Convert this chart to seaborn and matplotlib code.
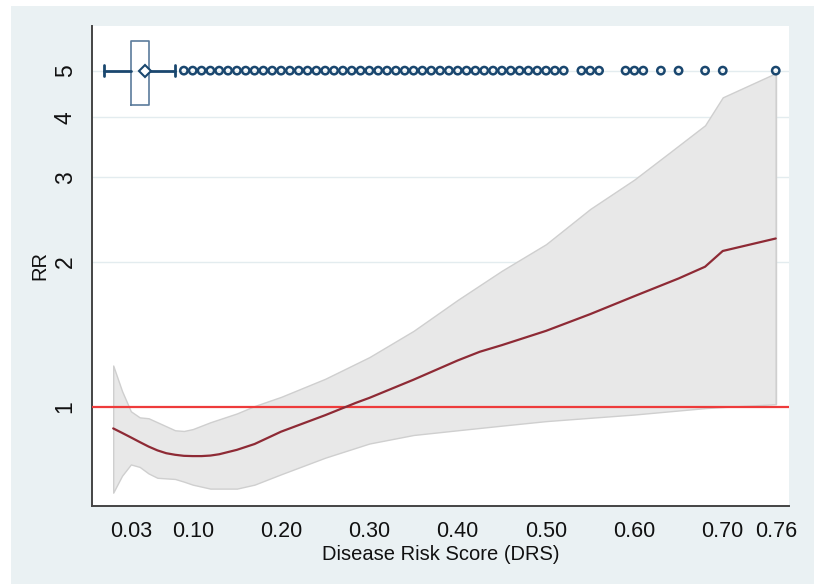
import numpy as np
import pandas as pd
import matplotlib
matplotlib.use("Agg")
import matplotlib.pyplot as plt
import seaborn as sns
from matplotlib.patches import Rectangle

#%% data
# point estimate of RR along DRS
drs_curve = [0.01, 0.02, 0.03, 0.04, 0.05, 0.06, 0.07, 0.08, 0.09, 0.10, 0.11, 0.12,
             0.13, 0.15, 0.17, 0.20, 0.25, 0.285, 0.30, 0.35, 0.40, 0.425, 0.45,
             0.50, 0.55, 0.60, 0.65, 0.68, 0.70, 0.76]
rr_curve = [0.903, 0.884, 0.865, 0.846, 0.828, 0.813, 0.802, 0.796, 0.792, 0.791, 0.791, 0.793,
            0.798, 0.815, 0.838, 0.889, 0.962, 1.021, 1.045, 1.14, 1.25, 1.303, 1.345,
            1.44, 1.56, 1.70, 1.85, 1.957, 2.11, 2.24]

# confidence band
drs_band = [0.01, 0.02, 0.03, 0.04, 0.05, 0.06, 0.08, 0.09, 0.10, 0.12, 0.15, 0.17,
            0.20, 0.25, 0.30, 0.35, 0.40, 0.45, 0.50, 0.55, 0.60, 0.64, 0.68, 0.70, 0.76]
ci_upper = [1.22, 1.08, 0.98, 0.952, 0.948, 0.93, 0.895, 0.892, 0.90, 0.93, 0.97, 1.005,
            1.05, 1.145, 1.27, 1.44, 1.67, 1.92, 2.18, 2.58, 2.97, 3.38, 3.85, 4.40, 4.94]
ci_lower = [0.664, 0.72, 0.76, 0.751, 0.728, 0.713, 0.709, 0.700, 0.690, 0.677, 0.677, 0.69,
            0.725, 0.785, 0.84, 0.875, 0.895, 0.915, 0.935, 0.95, 0.965, 0.98, 0.995, 1.0, 1.014]

# box plot of DRS (drawn at RR = 5)
box_whislo = 0.0
box_q1 = 0.03
box_mark = 0.0456
box_q3 = 0.05
box_whishi = 0.0796
outliers = [0.09, 0.10, 0.11, 0.12, 0.13, 0.14, 0.15, 0.16, 0.17, 0.18, 0.19,
            0.20, 0.21, 0.22, 0.23, 0.24, 0.25, 0.26, 0.27, 0.28, 0.29, 0.30,
            0.31, 0.32, 0.33, 0.34, 0.35, 0.36, 0.37, 0.38, 0.39, 0.40, 0.41,
            0.42, 0.43, 0.44, 0.45, 0.46, 0.47, 0.48, 0.49, 0.50, 0.51, 0.52,
            0.54, 0.55, 0.56, 0.59, 0.60, 0.61, 0.63, 0.65, 0.68, 0.70, 0.76]

x_ticks = [0.03, 0.10, 0.20, 0.30, 0.40, 0.50, 0.60, 0.70, 0.76]
x_ticklabels = ["0.03", "0.10", "0.20", "0.30", "0.40", "0.50", "0.60", "0.70", "0.76"]
y_ticks = [1, 2, 3, 4, 5]
y_ticklabels = ["1", "2", "3", "4", "5"]

#%% style
sns.set_style("white")
plt.rcParams['font.family'] = ['Liberation Sans', 'DejaVu Sans']

navy = "#1A476F"
bg = "#EAF1F3"

fig = plt.figure(figsize=(8.14, 5.84), dpi=100)
fig.patch.set_facecolor(bg)
# white strips on the left and top edge
fig.patches.append(Rectangle((0, 0), 11 / 814, 1, transform=fig.transFigure,
                             facecolor="white", edgecolor="none", zorder=-5))
fig.patches.append(Rectangle((0, 578 / 584), 1, 6 / 584, transform=fig.transFigure,
                             facecolor="white", edgecolor="none", zorder=-5))
ax = fig.add_axes([92 / 814, 1 - 506 / 584, (789 - 92) / 814, (506 - 26) / 584])
ax.set_facecolor("white")
ax.set_yscale("log")

#%% band, line, reference line
ax.fill_between(drs_band, ci_lower, ci_upper, facecolor="#E8E8E8",
                edgecolor="#CFCFCF", linewidth=1.0, zorder=2)
ax.plot([drs_band[-1], drs_band[-1]], [ci_lower[-1], ci_upper[-1]],
        color="#CFCFCF", lw=1.0, zorder=2)
curve = pd.DataFrame({"drs": drs_curve, "rr": rr_curve})
sns.lineplot(data=curve, x="drs", y="rr", ax=ax, color="#8E2A35", lw=1.6, zorder=4)
ax.axhline(1, color="#EE3B3B", lw=1.6, zorder=3)

#%% box plot on top
stats = [{"whislo": box_whislo, "q1": box_q1, "med": box_mark, "q3": box_q3,
          "whishi": box_whishi, "mean": box_mark, "fliers": []}]
ax.bxp(stats, positions=[5], widths=[1.5], vert=False, showmeans=True,
       showfliers=False, capwidths=[0.26],
       boxprops=dict(color="#5B7C9C", lw=1.2),
       whiskerprops=dict(color=navy, lw=2.0),
       capprops=dict(color=navy, lw=2.0),
       medianprops=dict(visible=False),
       meanprops=dict(marker="D", markerfacecolor="white", markeredgecolor=navy,
                      markersize=6, markeredgewidth=1.5),
       manage_ticks=False, zorder=5)
flier = pd.DataFrame({"drs": outliers, "rr": [5] * len(outliers)})
sns.scatterplot(data=flier, x="drs", y="rr", ax=ax, marker="o", s=28,
                facecolor="none", edgecolor=navy, linewidth=1.8, zorder=6)

#%% axes
ax.set_xlim(-0.014, 0.775)
ax.set_ylim(0.623, 6.19)
ax.set_xticks(x_ticks)
ax.set_xticklabels(x_ticklabels)
ax.yaxis.set_major_locator(matplotlib.ticker.FixedLocator(y_ticks))
ax.yaxis.set_minor_locator(matplotlib.ticker.NullLocator())
ax.set_yticklabels(y_ticklabels, rotation=90, va="center")
for y in y_ticks[1:]:
    ax.axhline(y, color="#E3ECEF", lw=1.0, zorder=1)

for s in ["top", "right"]:
    ax.spines[s].set_visible(False)
for s in ["left", "bottom"]:
    ax.spines[s].set_color("#444444")
    ax.spines[s].set_linewidth(1.4)
ax.tick_params(axis="both", direction="out", length=6, width=1.2, color="#444444",
               labelsize=15.5, labelcolor="#111111")
ax.tick_params(axis="y", pad=5, labelsize=16.5)
ax.tick_params(axis="x", pad=5)
ax.set_xlabel("Disease Risk Score (DRS)", fontsize=14.5, labelpad=2, color="#111111")
ax.set_ylabel("RR", fontsize=14.5, labelpad=3, color="#111111")

fig.savefig("out.png", dpi=100, facecolor=fig.get_facecolor())
